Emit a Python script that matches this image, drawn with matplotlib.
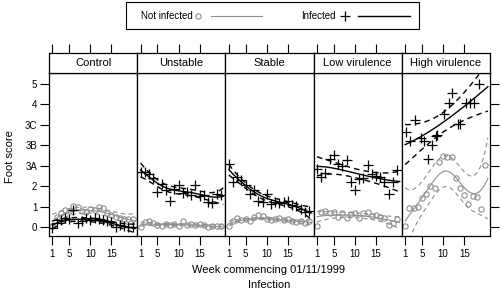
import numpy as np
import matplotlib
matplotlib.use('Agg')
from matplotlib import pyplot as plt
from matplotlib.lines import Line2D
from matplotlib.patches import Rectangle

plt.rcParams['font.family'] = ['Liberation Sans', 'DejaVu Sans']

weeks = list(range(1, 21))
weeks_hv_inf = [1.2, 2.2, 3.3, 4.8, 5.4, 6.3, 7.3, 8.2, 8.6, 10.2,
                11.4, 12.2, 13.4, 14.0, 15.5, 16.3, 17.3, 18.5]
panels = ["Control", "Unstable", "Stable", "Low virulence", "High virulence"]
y_tick_labels = ["0", "1", "2", "3A", "3B", "3C", "4", "5"]
x_ticks = [1, 5, 10, 15]

# foot scores, not infected (circles) / infected (crosses), per week
not_infected = {
    "Control": [0.05, 0.5, 0.7, 0.85, 0.8, 1.05, 1.0, 0.8, 0.75, 0.9,
                0.85, 1.0, 0.95, 0.7, 0.6, 0.5, 0.45, 0.4, 0.4, 0.4],
    "Unstable": [0.0, 0.25, 0.3, 0.2, 0.1, 0.05, 0.15, 0.1, 0.15, 0.05,
                 0.3, 0.1, 0.15, 0.1, 0.15, 0.1, 0.0, 0.05, 0.05, 0.05],
    "Stable": [0.05, 0.3, 0.45, 0.35, 0.4, 0.3, 0.5, 0.6, 0.55, 0.4,
               0.35, 0.4, 0.45, 0.35, 0.4, 0.3, 0.25, 0.3, 0.2, 0.3],
    "Low virulence": [0.05, 0.75, 0.8, 0.7, 0.75, 0.5, 0.7, 0.45, 0.65, 0.7,
                      0.45, 0.7, 0.75, 0.55, 0.6, 0.5, 0.45, 0.1, 0.2, 0.4],
    "High virulence": [0.05, 0.95, 0.95, 1.0, 1.45, 1.65, 2.0, 1.9, 3.2, 3.5,
                       3.45, 3.45, 2.4, 1.9, 1.6, 1.15, 1.55, 1.5, 0.9, 3.05],
}
infected = {
    "Control": [-0.05, 0.2, 0.35, 0.45, 0.4, 0.85, 0.2, 0.3, 0.45, 0.35,
                0.45, 0.4, 0.35, 0.3, 0.25, 0.0, 0.1, 0.05, 0.0, 0.0],
    "Unstable": [2.7, 2.7, 2.6, 2.4, 1.75, 2.1, 1.8, 1.3, 1.85, 2.05,
                 1.7, 1.75, 1.6, 2.05, 1.55, 1.6, 1.25, 1.2, 1.65, 1.6],
    "Stable": [3.1, 2.2, 2.45, 2.3, 2.05, 1.65, 1.8, 1.3, 1.25, 1.65,
               1.15, 1.25, 1.2, 1.25, 1.3, 1.1, 1.05, 0.9, 0.75, 0.8],
    "Low virulence": [2.85, 2.45, 2.65, 3.35, 3.55, 3.1, 3.0, 3.3, 2.2, 1.8,
                      2.35, 2.4, 3.05, 2.6, 2.5, 2.45, 2.2, 1.65, 2.2, 2.8],
    "High virulence": [4.65, 4.2, 5.25, 4.35, 4.2, 3.35, 4.0, 4.45, 4.5, 5.55,
                       6.05, 6.55, 5.05, 5.05, 6.05, 6.05, 6.05, 7.0],
}
# smoothing bandwidth (weeks) and band width (in standard errors) of the fits
bw_not = {"Control": 3.5, "Unstable": 4, "Stable": 3.5,
          "Low virulence": 5, "High virulence": 2.6}
bw_inf = {"Control": 3.5, "Unstable": 3, "Stable": 3,
          "Low virulence": 6, "High virulence": 9}
z_not = {"Control": 3.5, "Unstable": 2, "Stable": 2,
         "Low virulence": 2.5, "High virulence": 4}
z_inf = {"Control": 2, "Unstable": 2, "Stable": 2,
         "Low virulence": 2, "High virulence": 3}


def smooth_band(x, y, h, xs, z):
    # local linear smoother with gaussian kernel, +-z se band
    x = np.asarray(x, float)
    y = np.asarray(y, float)

    def rows(pts):
        L = []
        for x0 in pts:
            w = np.exp(-0.5 * ((x - x0) / h) ** 2)
            X = np.column_stack([np.ones_like(x), x - x0])
            A = X.T @ (w[:, None] * X)
            L.append(np.linalg.solve(A, (X * w[:, None]).T)[0])
        return np.array(L)

    Ld = rows(x)
    resid = y - Ld @ y
    df = len(x) - 2 * np.trace(Ld) + np.trace(Ld.T @ Ld)
    s2 = resid @ resid / df
    L = rows(xs)
    yhat = L @ y
    se = np.sqrt(s2 * (L ** 2).sum(axis=1))
    return yhat, yhat - z * se, yhat + z * se


W, H = 500, 289
fig = plt.figure(figsize=(W / 100, H / 100), dpi=100)

left, right = 49, 490
pw = (right - left) / len(panels)
p_top, p_bot, s_top = 73, 236, 53
tick_len = 6.5
grey = '#8f8f8f'
xs = np.linspace(1, 20.6, 150)

for i, name in enumerate(panels):
    x0 = left + i * pw
    ax = fig.add_axes([x0 / W, 1 - p_bot / H, pw / W, (p_bot - p_top) / H])
    st = fig.add_axes([x0 / W, 1 - p_top / H, pw / W, (p_top - s_top) / H])

    # not infected
    yh, lo, hi = smooth_band(weeks, not_infected[name], bw_not[name], xs,
                             z_not[name])
    ax.plot(xs, yh, color=grey, lw=0.8)
    ax.plot(xs, lo, color=grey, lw=0.8, ls=(0, (4, 3)))
    ax.plot(xs, hi, color=grey, lw=0.8, ls=(0, (4, 3)))
    ax.plot(weeks, not_infected[name], 'o', mfc='none', mec=grey,
            ms=3.8, mew=0.8)
    # infected
    wk = weeks_hv_inf if name == "High virulence" else weeks
    yh, lo, hi = smooth_band(wk, infected[name], bw_inf[name], xs, z_inf[name])
    ax.plot(xs, yh, color='black', lw=1.0)
    ax.plot(xs, lo, color='black', lw=1.0, ls=(0, (4, 3)))
    ax.plot(xs, hi, color='black', lw=1.0, ls=(0, (4, 3)))
    ax.plot(wk, infected[name], '+', color='black', ms=6.5, mew=0.9)

    ax.set_xlim(0.2, 21.1)
    ax.set_ylim(-0.42, 7.53)
    ax.set_xticks(x_ticks)
    ax.set_xticklabels([str(t) for t in x_ticks], fontsize=7)
    ax.tick_params(axis='x', direction='out', length=tick_len, width=0.8, pad=3)
    ax.set_yticks(range(len(y_tick_labels)))
    if i == 0:
        ax.set_yticklabels(y_tick_labels, fontsize=7)
        ax.tick_params(axis='y', direction='out', length=tick_len, width=0.8, pad=2)
    elif i == len(panels) - 1:
        ax.yaxis.tick_right()
        ax.tick_params(axis='y', direction='out', length=tick_len, width=0.8,
                       labelright=False)
    else:
        ax.tick_params(axis='y', length=0, labelleft=False)
    for sp in ax.spines.values():
        sp.set_linewidth(0.9)

    st.set_xlim(ax.get_xlim())
    st.set_ylim(0, 1)
    st.set_yticks([])
    st.xaxis.tick_top()
    st.set_xticks(x_ticks)
    st.tick_params(axis='x', direction='out', length=tick_len, width=0.8,
                   labeltop=False)
    for sp in st.spines.values():
        sp.set_linewidth(0.9)
    st.text(0.5, 0.5, name, ha='center', va='center', fontsize=8,
            transform=st.transAxes)

fig.text(10 / W, 1 - 157 / H, "Foot score", rotation=90, ha='center',
         va='center', fontsize=8)
fig.text(269 / W, 1 - 270 / H, "Week commencing 01/11/1999", ha='center',
         va='center', fontsize=8)
fig.text(269 / W, 1 - 285 / H, "Infection", ha='center', va='center', fontsize=8)

# key
key = fig.add_axes([0, 0, 1, 1])
key.set_xlim(0, W)
key.set_ylim(H, 0)
key.axis('off')
key.add_patch(Rectangle((126, 2), 293, 27, fill=False, lw=0.8, ec='black'))
ky = 16
key.text(193, ky, "Not infected", ha='right', va='center', fontsize=7)
key.plot([198], [ky], 'o', mfc='none', mec=grey, ms=3.8, mew=0.8)
key.add_line(Line2D([211, 262], [ky, ky], color=grey, lw=0.8))
key.text(336, ky, "Infected", ha='right', va='center', fontsize=7)
key.plot([345], [ky], '+', color='black', ms=6.5, mew=0.9)
key.add_line(Line2D([358, 410], [ky, ky], color='black', lw=1.0))

fig.savefig('out.png', dpi=100)
